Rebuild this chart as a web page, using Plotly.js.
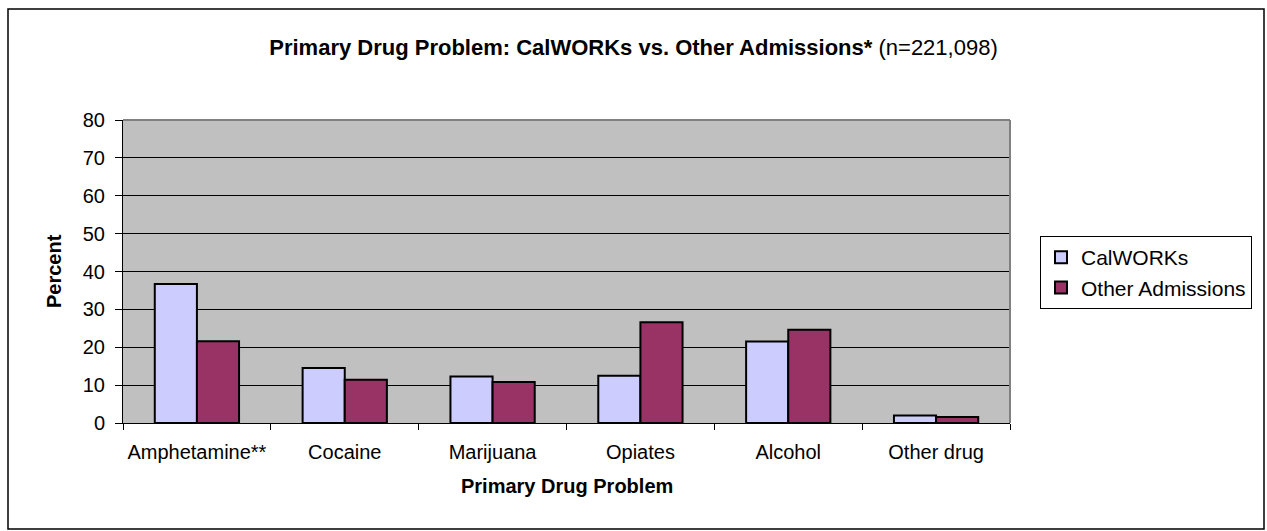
<!DOCTYPE html>
<html>
<head>
<meta charset="utf-8">
<script src="https://cdn.plot.ly/plotly-3.0.1.min.js"></script>
<style>html,body{margin:0;padding:0;background:#fff;}#chart{width:1267px;height:531px;}</style>
</head>
<body>
<div id="chart"></div>
<script>
var categories = ["Amphetamine**", "Cocaine", "Marijuana", "Opiates", "Alcohol", "Other drug"];
var calworks = [36.7, 14.5, 12.3, 12.5, 21.5, 2.0];
var otherAdmissions = [21.6, 11.4, 10.8, 26.6, 24.6, 1.6];
var yTicks = [0, 10, 20, 30, 40, 50, 60, 70, 80];

var FONT = "Liberation Sans, Arial, sans-serif";

var traces = [
  {type: "bar", name: "CalWORKs", x: categories, y: calworks,
   marker: {color: "#ccccff", line: {color: "#000000", width: 2}}},
  {type: "bar", name: "Other Admissions", x: categories, y: otherAdmissions,
   marker: {color: "#993366", line: {color: "#000000", width: 2}}}
];

var L = 123, R = 1010, T = 120, B = 423, W = 1267, H = 531;
var pw = R - L, ph = B - T;
function px(x){ return (x - L) / pw; }
function py(y){ return (B - y) / ph; }

var layout = {
  width: W, height: H,
  margin: {l: L, r: W - R, t: T, b: H - B, pad: 0, autoexpand: false},
  paper_bgcolor: "#ffffff",
  plot_bgcolor: "#c0c0c0",
  font: {family: FONT, size: 20, color: "#000000"},
  title: {
    text: "<b>Primary Drug Problem: CalWORKs vs. Other Admissions*</b> (n=221,098)",
    font: {family: FONT, size: 22, color: "#000000"},
    x: 0.5, xref: "container", y: 1 - 47 / H, yref: "container", yanchor: "middle"
  },
  barmode: "group",
  bargap: 0.43,
  bargroupgap: 0,
  xaxis: {
    type: "category",
    showline: true, linecolor: "#000000", linewidth: 1,
    ticks: "outside", tickson: "boundaries", ticklen: 6, tickcolor: "#000000", tickwidth: 1,
    tickangle: 0, ticklabelstandoff: 11,
    showgrid: false, zeroline: false,
    tickfont: {family: FONT, size: 20, color: "#000000"}
  },
  yaxis: {
    range: [0, 80], tickvals: yTicks, ticktext: yTicks.map(String),
    showline: true, linecolor: "#000000", linewidth: 1,
    ticks: "outside", ticklen: 7, tickcolor: "#000000", tickwidth: 1,
    ticklabelstandoff: 6,
    showgrid: true, gridcolor: "#000000", gridwidth: 1,
    zeroline: false,
    tickfont: {family: FONT, size: 20, color: "#000000"}
  },
  showlegend: true,
  legend: {
    xref: "container", yref: "container",
    x: 1040 / W, y: 1 - 236 / H, xanchor: "left", yanchor: "top",
    bgcolor: "#ffffff", bordercolor: "#000000", borderwidth: 1,
    font: {family: FONT, size: 21, color: "#000000"},
    itemwidth: 30, traceorder: "normal"
  },
  annotations: [
    {text: "<b>Primary Drug Problem</b>", xref: "paper", yref: "paper",
     x: 0.5, y: py(486), xanchor: "center", yanchor: "middle", showarrow: false,
     font: {family: FONT, size: 20, color: "#000000"}},
    {text: "<b>Percent</b>", xref: "paper", yref: "paper",
     x: px(54), y: py(271), xanchor: "center", yanchor: "middle", showarrow: false, textangle: -90,
     font: {family: FONT, size: 20, color: "#000000"}}
  ],
  shapes: [
    {type: "line", xref: "paper", yref: "paper", x0: 0, x1: 1, y0: 1, y1: 1, line: {color: "#808080", width: 2}},
    {type: "line", xref: "paper", yref: "paper", x0: 1, x1: 1, y0: 0, y1: 1, line: {color: "#808080", width: 2}},
    {type: "rect", xref: "paper", yref: "paper", x0: px(8), x1: px(1264), y0: py(529), y1: py(9), line: {color: "#000000", width: 1.5}, fillcolor: "rgba(0,0,0,0)"}
  ]
};

Plotly.newPlot("chart", traces, layout, {staticPlot: true, displayModeBar: false});
</script>
</body>
</html>
